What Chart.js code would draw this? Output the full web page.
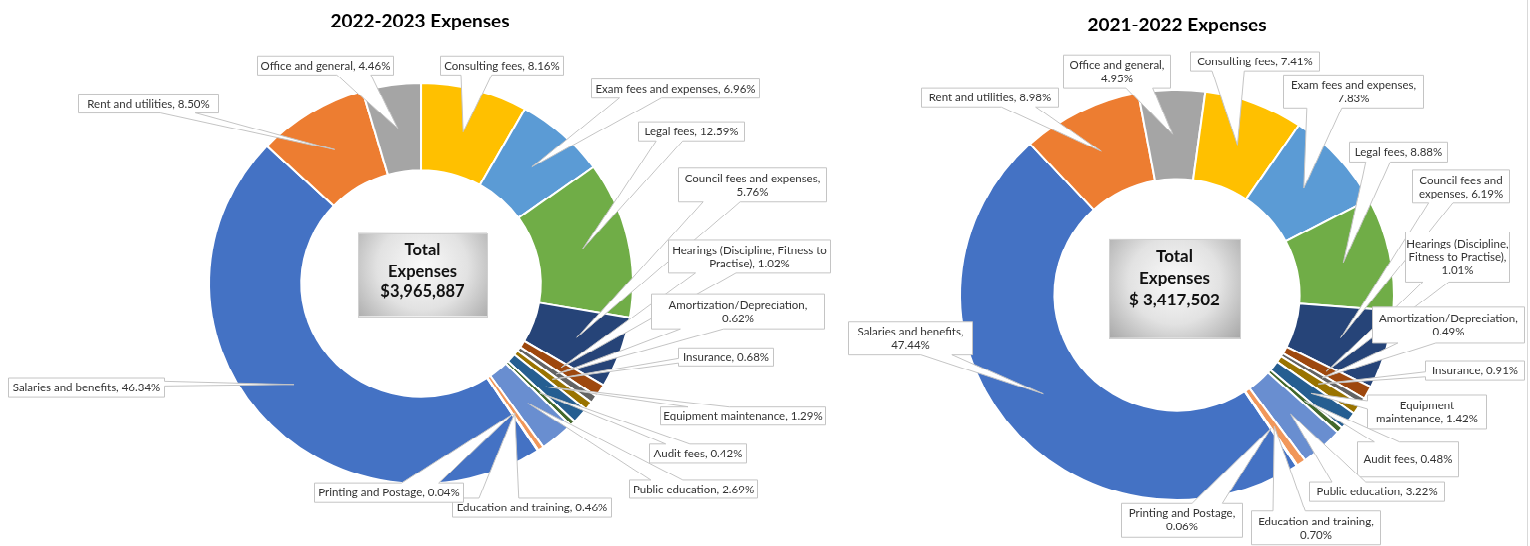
<!DOCTYPE html>
<html><head><meta charset="utf-8">
<script src="https://cdn.jsdelivr.net/npm/chart.js@4.4.1/dist/chart.umd.min.js"></script>
<style>
html,body{margin:0;padding:0;background:#fff;width:1530px;height:546px;overflow:hidden;}
#wrap{position:absolute;left:0;top:0;width:1530px;height:578px;transform:scaleY(0.945);transform-origin:0 0;}
#c1{position:absolute;left:0;top:0;}
#c2{position:absolute;left:840px;top:0;}
#edge{position:absolute;left:1527px;top:0;width:1px;height:546px;background:#D9D9D9;}
</style></head><body>
<div id="wrap"><canvas id="c1" width="840" height="578"></canvas><canvas id="c2" width="690" height="578"></canvas></div>
<div id="edge"></div>
<script>
// ---- data ----
const categories = ['Salaries and benefits','Rent and utilities','Office and general','Consulting fees',
  'Exam fees and expenses','Legal fees','Council fees and expenses','Hearings (Discipline, Fitness to Practise)',
  'Amortization/Depreciation','Insurance','Equipment maintenance','Audit fees','Public education',
  'Education and training','Printing and Postage'];
const values2223 = [46.34,8.50,4.46,8.16,6.96,12.59,5.76,1.02,0.62,0.68,1.29,0.42,2.69,0.46,0.04];
const values2122 = [47.44,8.98,4.95,7.41,7.83,8.88,6.19,1.01,0.49,0.91,1.42,0.48,3.22,0.70,0.06];
const titles = ['2022-2023 Expenses','2021-2022 Expenses'];
const totals = ['$3,965,887','$ 3,417,502'];

// ---- style / layout ----
const colors = ['#4472C4','#ED7D31','#A5A5A5','#FFC000','#5B9BD5','#70AD47','#264478','#9E480E',
  '#636363','#997300','#255E91','#43682B','#698ED0','#F1975A','#B7B7B7'];
const SY = 0.945;
const FONT = 'Lato, "Noto Sans", sans-serif';
// label boxes [x1,y1,x2,y2] in page pixels, line breaks (word indices)
const boxes2223 = [[8,378,164,397],[78,94,218,113],[257,56,393,75],[440,56,563,75],[591,79,759,98],
  [638,122,744,141],[678,168,826,202],[668,240,830,273],[651,294,824,329],[678,348,773,366],
  [660,407,825,425],[649,444,746,463],[629,480,757,498],[452,498,611,517],[314,483,463,502]];
const breaks2223 = [[],[],[],[],[],[],[4],[4],[1],[],[],[],[],[],[]];
const boxes2122 = [[848,322,972,355],[921,88,1058,107],[1063,55,1170,88],[1190,52,1319,71],[1283,75,1423,108],
  [1349,142,1447,162],[1412,170,1509,203],[1405,232,1509,282],[1372,307,1524,343],[1425,361,1524,380],
  [1367,395,1486,429],[1357,442,1458,477],[1309,482,1444,501],[1251,511,1380,545],[1121,503,1242,537]];
const breaks2122 = [[3],[],[3],[],[4],[],[3],[2,5],[1],[],[1],[],[],[3],[3]];

function labelLines(cat, val, brk){
  const words = (cat + ', ' + val.toFixed(2) + '%').split(' ');
  const lines = []; let s = 0;
  brk.concat([words.length]).forEach(b => { lines.push(words.slice(s,b).join(' ')); s = b; });
  return lines;
}

function calloutPath(ctx, l, t, r, b, tx, ty){
  const w = r-l, h = b-t, hc = (l+r)/2, vc = (t+b)/2;
  const dx = tx-hc, dy = ty-vc;
  const inside = tx>=l && tx<=r && ty>=t && ty<=b;
  const dq = dx*h/w, dz = Math.abs(dy)-Math.abs(dq);
  const x1 = l + w*(dx>0?7:2)/12, x2 = l + w*(dx>0?10:5)/12;
  const y1 = t + h*(dy>0?7:2)/12, y2 = t + h*(dy>0?10:5)/12;
  ctx.beginPath();
  ctx.moveTo(l,t);
  if(!inside && dz>0 && dy<0){ ctx.lineTo(x1,t); ctx.lineTo(tx,ty); ctx.lineTo(x2,t); }
  ctx.lineTo(r,t);
  if(!inside && dz<=0 && dx>0){ ctx.lineTo(r,y1); ctx.lineTo(tx,ty); ctx.lineTo(r,y2); }
  ctx.lineTo(r,b);
  if(!inside && dz>0 && dy>0){ ctx.lineTo(x2,b); ctx.lineTo(tx,ty); ctx.lineTo(x1,b); }
  ctx.lineTo(l,b);
  if(!inside && dz<=0 && dx<0){ ctx.lineTo(l,y2); ctx.lineTo(tx,ty); ctx.lineTo(l,y1); }
  ctx.closePath();
}

function makePlugin(k, boxes, breaks, offX, title, titleXY, cbox, cLinesY, cFont){
  return {
    id:'deco'+k,
    afterDatasetsDraw(chart){
      const ctx = chart.ctx;
      const meta = chart.getDatasetMeta(0);
      const vals = chart.data.datasets[0].data;
      ctx.save();
      meta.data.forEach((arc,i)=>{
        const p = arc.getCenterPoint();
        const bx = boxes[i];
        const l = Math.round(bx[0]-offX)+0.5, r = Math.round(bx[2]-offX)+0.5;
        const t = bx[1]/SY, b = bx[3]/SY;
        calloutPath(ctx,l,t,r,b,p.x,p.y);
        ctx.fillStyle = '#FFFFFF'; ctx.fill();
        ctx.strokeStyle = '#C4C4C4'; ctx.lineWidth = 1; ctx.stroke();
        const lines = labelLines(chart.data.labels[i], vals[i], breaks[i]);
        ctx.fillStyle = '#333333';
        ctx.font = '11.5px ' + FONT;
        ctx.textAlign = 'center'; ctx.textBaseline = 'middle';
        const lh = 14, cy = (t+b)/2, cx = (l+r)/2;
        lines.forEach((ln,j)=>{ ctx.fillText(ln, cx, cy + (j-(lines.length-1)/2)*lh + 0.5); });
      });
      // center box
      const L = cbox[0]-offX, T = cbox[1]/SY, R = cbox[2]-offX, B = cbox[3]/SY;
      const gx = (L+R)/2, gy = (T+B)/2 - 8;
      const g = ctx.createRadialGradient(gx, gy, 0, gx, gy, Math.max(R-L,B-T)*0.78);
      g.addColorStop(0,'#FAFAFA'); g.addColorStop(0.45,'#E2E2E2'); g.addColorStop(1,'#959595');
      ctx.fillStyle = g; ctx.fillRect(L,T,R-L,B-T);
      ctx.strokeStyle = '#D0D0D0'; ctx.lineWidth = 1; ctx.strokeRect(Math.round(L)+0.5,Math.round(T)+0.5,Math.round(R-L),Math.round(B-T));
      ctx.fillStyle = '#111111'; ctx.font = 'bold ' + cFont + 'px ' + FONT;
      const cl = ['Total','Expenses',totals[k]];
      cl.forEach((s,j)=>ctx.fillText(s, (L+R)/2, cLinesY[j]/SY));
      // title
      ctx.fillStyle = '#000000'; ctx.font = 'bold 19px ' + FONT;
      ctx.fillText(title, titleXY[0]-offX, titleXY[1]/SY);
      ctx.restore();
    }
  };
}

function build(id, vals, k, opts){
  new Chart(document.getElementById(id), {
    type:'doughnut',
    data:{labels:categories, datasets:[{data:vals, backgroundColor:colors, borderColor:'#FFFFFF', borderWidth:2, hoverOffset:0}]},
    options:{responsive:false, animation:false, events:[], rotation:146.52, radius:opts.radius, cutout:'56.5%',
      layout:{padding:opts.pad},
      plugins:{legend:{display:false}, tooltip:{enabled:false}, title:{display:false}}},
    plugins:[makePlugin(k, opts.boxes, opts.breaks, opts.offX, titles[k], opts.titleXY, opts.cbox, opts.cY, opts.cFont)]
  });
}

build('c1', values2223, 0, {radius:212, pad:{left:2,right:0,top:22,bottom:0}, boxes:boxes2223, breaks:breaks2223,
  offX:0, titleXY:[420,22], cbox:[358,233,487,316], cY:[250,272,292], cFont:16.5});
build('c2', values2122, 1, {radius:217, pad:{left:0,right:16,top:46,bottom:0}, boxes:boxes2122, breaks:breaks2122,
  offX:840, titleXY:[1177,25], cbox:[1109,239,1240,338], cY:[257,278,300], cFont:17});
</script>
</body></html>
